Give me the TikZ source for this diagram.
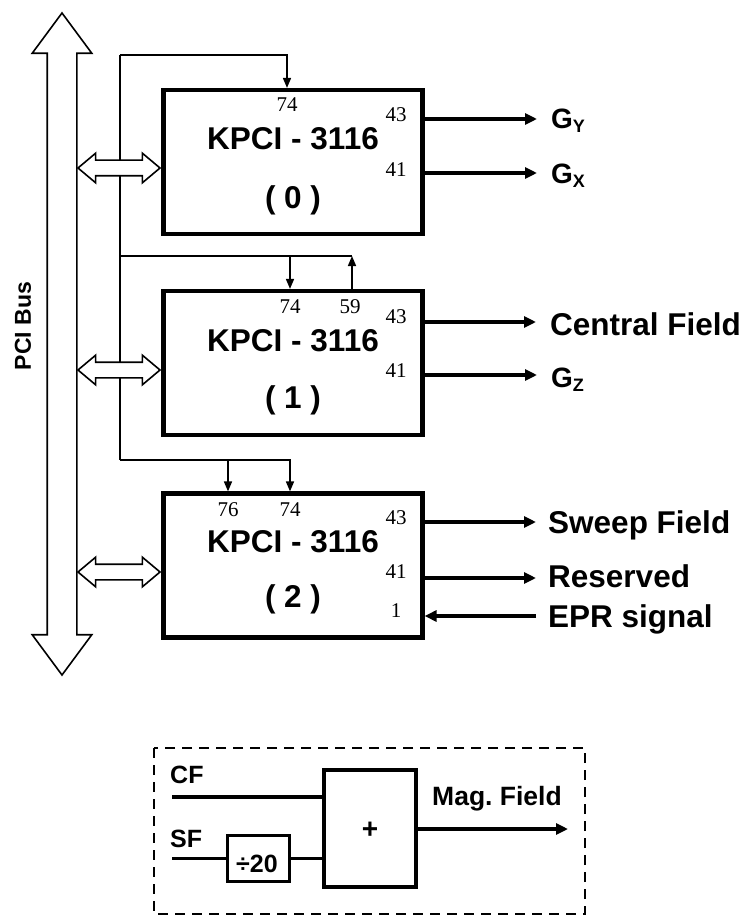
\documentclass[tikz,border=0pt]{standalone}
\usepackage{fontspec}
\setmainfont{Liberation Sans}
\newfontfamily\pinfont{Liberation Serif}
\usetikzlibrary{shapes.arrows,arrows.meta}
\newcommand\gsub[2]{#1{\fontsize{18}{20}\selectfont\raisebox{-4pt}{#2}}}
\begin{document}
\begin{tikzpicture}[x=1pt,y=-1pt,
  card/.style={draw,line width=4.2pt,minimum width=259pt,minimum height=144pt,inner sep=0pt},
  bigtxt/.style={font=\fontsize{31.5}{36}\selectfont\bfseries,inner sep=0pt,anchor=base},
  outtxt/.style={font=\fontsize{31.5}{36}\selectfont\bfseries,inner sep=0pt,anchor=base west},
  gtxt/.style={font=\fontsize{28}{32}\selectfont\bfseries,inner sep=0pt,anchor=base west},
  smalltxt/.style={font=\fontsize{25}{28}\selectfont\bfseries,inner sep=0pt,anchor=base west},
  pin/.style={font=\pinfont\fontsize{21}{23}\selectfont,inner sep=0pt,anchor=base},
  feed/.style={line width=1.6pt},
  feedtip/.style={line width=1.6pt,-{Triangle[length=10pt,width=8pt]}},
  outarrow/.style={line width=3.4pt,-{Triangle[length=12pt,width=11pt]}},
  sig/.style={line width=3.4pt},
  link/.style={double arrow,draw,fill=white,line width=1.6pt,minimum height=82pt,minimum width=28pt,
    inner xsep=0pt,inner ysep=7pt,double arrow head extend=7pt,double arrow tip angle=80}]
\useasboundingbox (0,0) rectangle (747,917);

\node[double arrow,draw,line width=1.6pt,rotate=90,minimum height=662pt,minimum width=58pt,
  inner xsep=0pt,inner ysep=14pt,double arrow head extend=15pt,double arrow tip angle=73] (bus) at (62,344) {};
\node[font=\fontsize{23}{26}\selectfont\bfseries,rotate=90,inner sep=0pt] (buslbl) at (23,326) {PCI Bus};

\node[card] (k0) at (293,162) {};
\node[bigtxt] (k0name) at (293,150) {KPCI - 3116};
\node[bigtxt] (k0num) at (293,208) {( 0 )};
\node[pin] (k0p74) at (287,112) {74};
\node[pin] (k0p43) at (396,122) {43};
\node[pin] (k0p41) at (396,177) {41};

\node[card] (k1) at (293,363) {};
\node[bigtxt] (k1name) at (293,351) {KPCI - 3116};
\node[bigtxt] (k1num) at (293,408) {( 1 )};
\node[pin] (k1p74) at (290,313) {74};
\node[pin] (k1p59) at (350,313) {59};
\node[pin] (k1p43) at (396,323) {43};
\node[pin] (k1p41) at (396,377) {41};

\node[card] (k2) at (293,565.5) {};
\node[bigtxt] (k2name) at (293,552) {KPCI - 3116};
\node[bigtxt] (k2num) at (293,607) {( 2 )};
\node[pin] (k2p76) at (228,516) {76};
\node[pin] (k2p74) at (290,516) {74};
\node[pin] (k2p43) at (396,524) {43};
\node[pin] (k2p41) at (396,578) {41};
\node[pin] (k2p1) at (396,617) {1};

\coordinate (f0) at (120,55);
\coordinate (f1) at (120,256);
\coordinate (f2) at (120,460);
\coordinate (r1) at (352,256);
\draw[feed] (f0) -- (f2);
\draw[feedtip] (f0) -| ([xshift=-6pt]k0.north);
\draw[feed] (f1) -- (r1);
\draw[feedtip] ([xshift=-3pt]k1.north |- f1) -- ([xshift=-3pt]k1.north);
\draw[feedtip] (r1 |- k1.north) -- (r1);
\draw[feedtip] (f2) -| ([xshift=-3pt]k2.north);
\draw[feedtip] ([xshift=-65pt]k2.north |- f2) -- ([xshift=-65pt]k2.north);

\node[link] (l0) at (119,168) {};
\node[link] (l1) at (119,370) {};
\node[link] (l2) at (119,572) {};

\coordinate (gy) at (537,119);
\coordinate (gx) at (537,173);
\coordinate (cf) at (536,322);
\coordinate (gz) at (537,375);
\coordinate (sw) at (536,522);
\coordinate (rs) at (536,578);
\coordinate (ep) at (536,616);
\draw[outarrow] (k0.east |- gy) -- (gy);
\draw[outarrow] (k0.east |- gx) -- (gx);
\draw[outarrow] (k1.east |- cf) -- (cf);
\draw[outarrow] (k1.east |- gz) -- (gz);
\draw[outarrow] (k2.east |- sw) -- (sw);
\draw[outarrow] (k2.east |- rs) -- (rs);
\draw[outarrow] (ep) -- (k2.east |- ep);
\node[gtxt] (gylbl) at ([xshift=14pt,yshift=-10pt]gy) {\gsub{G}{Y}};
\node[gtxt] (gxlbl) at ([xshift=14pt,yshift=-11pt]gx) {\gsub{G}{X}};
\node[outtxt] (cflbl) at ([xshift=14pt,yshift=-13pt]cf) {Central Field};
\node[gtxt] (gzlbl) at ([xshift=14pt,yshift=-12pt]gz) {\gsub{G}{Z}};
\node[outtxt] (swlbl) at ([xshift=12pt,yshift=-11pt]sw) {Sweep Field};
\node[outtxt] (rslbl) at ([xshift=12pt,yshift=-9pt]rs) {Reserved};
\node[outtxt] (eplbl) at ([xshift=12pt,yshift=-11pt]ep) {EPR signal};

\draw[line width=2pt,dash pattern=on 10pt off 7pt] (154,748) rectangle (585,914);
\node[draw,line width=4.2pt,minimum width=92pt,minimum height=117pt] (plus) at (370,828.5) {};
\node[font=\fontsize{28}{30}\selectfont\bfseries] (plussign) at (370,830) {+};
\node[draw,line width=3.2pt,minimum width=62pt,minimum height=46pt] (div) at (258.5,858.5) {};
\node[smalltxt,anchor=base] (divlbl) at (257,872) {÷20};
\node[smalltxt] (cflbl2) at (170,783) {CF};
\node[smalltxt] (sflbl) at (170,847) {SF};
\node[smalltxt,font=\fontsize{26.5}{29}\selectfont\bfseries] (maglbl) at (432,805) {Mag.\ Field};
\coordinate (cfin) at (172,797);
\coordinate (sfin) at (172,858.5);
\coordinate (magout) at (568,829);
\draw[sig] (cfin) -- (cfin -| plus.west);
\draw[sig] (sfin) -- (div.west);
\draw[sig] (div.east) -- (div.east -| plus.west);
\draw[outarrow] (plus.east |- magout) -- (magout);
\end{tikzpicture}
\end{document}
